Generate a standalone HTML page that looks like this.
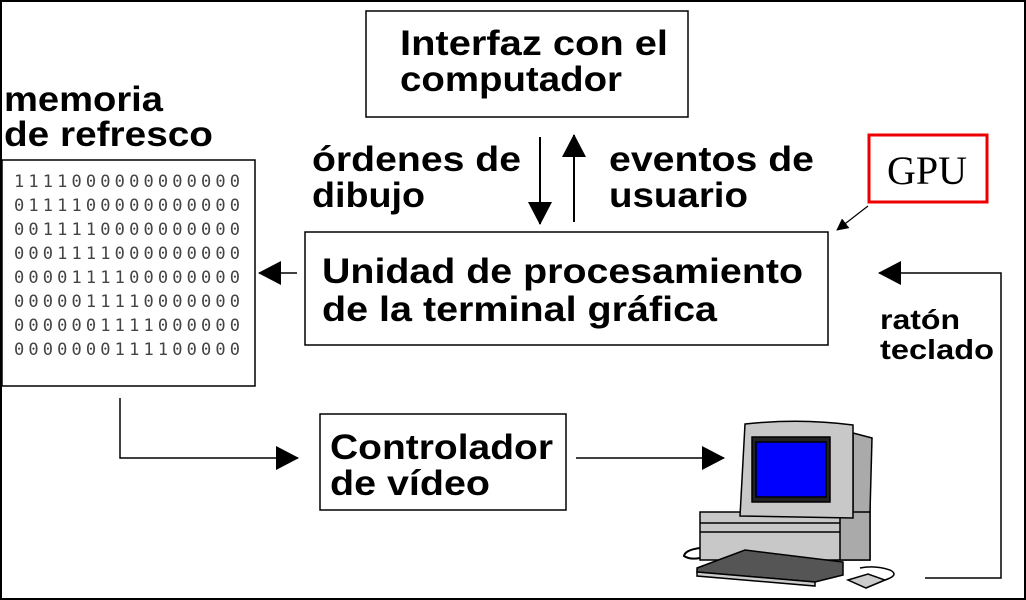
<!DOCTYPE html>
<html><head><meta charset="utf-8"><style>
html,body{margin:0;padding:0;background:#fff}
svg{display:block}
.b{font-family:"Liberation Sans",sans-serif;font-weight:bold;font-size:35px;fill:#000}
.m{font-family:"DejaVu Sans Mono","Liberation Mono",monospace;font-size:17px;fill:#444}
</style></head><body>
<svg width="1026" height="600" viewBox="0 0 1026 600" xmlns="http://www.w3.org/2000/svg">
<defs><marker id="a" markerWidth="24" markerHeight="26" refX="22" refY="13" orient="auto" markerUnits="userSpaceOnUse" viewBox="0 0 24 26"><path d="M0,1 L23,13 L0,25z" fill="#000"/></marker>
<marker id="s" markerWidth="12" markerHeight="12" refX="11" refY="6" orient="auto" markerUnits="userSpaceOnUse" viewBox="0 0 12 12"><path d="M0,0 L12,6 L0,12z" fill="#000"/></marker></defs>
<rect x="1" y="1" width="1024" height="598" fill="none" stroke="#000" stroke-width="2"/>
<g fill="none" stroke="#000" stroke-width="1.5">
<rect x="366" y="11" width="322" height="106"/>
<rect x="305" y="232" width="523" height="113"/>
<rect x="320" y="414" width="246" height="96"/>
<rect x="2" y="160" width="253" height="226"/>
</g>
<rect x="869" y="135" width="118" height="67" fill="none" stroke="#e00" stroke-width="3"/>
<text x="927" y="184" text-anchor="middle" font-family="Liberation Serif,serif" font-size="40">GPU</text>
<g class="b" lengthAdjust="spacingAndGlyphs">
<text x="400" y="55" textLength="268" lengthAdjust="spacingAndGlyphs">Interfaz con el</text>
<text x="400" y="91" textLength="222" lengthAdjust="spacingAndGlyphs">computador</text>
<text x="4" y="111" textLength="159" lengthAdjust="spacingAndGlyphs">memoria</text>
<text x="4" y="146" textLength="209" lengthAdjust="spacingAndGlyphs">de refresco</text>
<text x="312" y="171" textLength="209" lengthAdjust="spacingAndGlyphs">órdenes de</text>
<text x="312" y="207" textLength="113" lengthAdjust="spacingAndGlyphs">dibujo</text>
<text x="609" y="171" textLength="205" lengthAdjust="spacingAndGlyphs">eventos de</text>
<text x="609" y="207" textLength="139" lengthAdjust="spacingAndGlyphs">usuario</text>
<text x="322" y="283" textLength="481" lengthAdjust="spacingAndGlyphs">Unidad de procesamiento</text>
<text x="322" y="321" textLength="395" lengthAdjust="spacingAndGlyphs">de la terminal gráfica</text>
<text x="330" y="459" textLength="223" lengthAdjust="spacingAndGlyphs">Controlador</text>
<text x="330" y="495" textLength="160" lengthAdjust="spacingAndGlyphs">de vídeo</text>
<text x="880" y="329" font-size="28" textLength="80" lengthAdjust="spacingAndGlyphs">ratón</text>
<text x="880" y="359" font-size="28" textLength="114" lengthAdjust="spacingAndGlyphs">teclado</text>
</g>
<g class="m">
<text x="14" y="187" textLength="226">1111000000000000</text>
<text x="14" y="211" textLength="226">0111100000000000</text>
<text x="14" y="235" textLength="226">0011110000000000</text>
<text x="14" y="259" textLength="226">0001111000000000</text>
<text x="14" y="283" textLength="226">0000111100000000</text>
<text x="14" y="307" textLength="226">0000011110000000</text>
<text x="14" y="331" textLength="226">0000001111000000</text>
<text x="14" y="355" textLength="226">0000000111100000</text>
</g>
<g stroke="#000" stroke-width="1.5" fill="none">
<line x1="540" y1="137" x2="540" y2="224" marker-end="url(#a)" stroke-width="2"/>
<line x1="574" y1="222" x2="574" y2="135" marker-end="url(#a)" stroke-width="2"/>
<line x1="297" y1="273" x2="259" y2="273" marker-end="url(#a)"/>
<polyline points="120,398 120,458 298,458" marker-end="url(#a)"/>
<line x1="576" y1="458" x2="724" y2="458" marker-end="url(#a)"/>
<polyline points="925,578 1001,578 1001,273 879,273" marker-end="url(#a)"/>
<line x1="868" y1="206" x2="837" y2="230" stroke-width="1.2" marker-end="url(#s)"/>
</g>
<g stroke="#000" stroke-width="1.5">
<path d="M700,512 L870,512 L870,560 L700,560z" fill="#c8c8c8"/>
<line x1="700" y1="523" x2="840" y2="523"/>
<line x1="700" y1="532" x2="840" y2="532"/>
<path d="M840,512 L870,505 L870,560 L840,560z" fill="#aaa"/>
<path d="M853,433 L872,438 L870,512 L853,512z" fill="#aaa"/>
<path d="M745,424 Q800,418 853,425 L853,518 L740,516z" fill="#c8c8c8"/>
<rect x="752" y="437" width="78" height="65" fill="#222"/>
<rect x="756" y="442" width="70" height="55" fill="#0000ff"/>
<path d="M697,568 L745,550 L843,562 L843,575 L815,582 L697,572z" fill="#555"/>
<path d="M697,572 L815,582 L815,586 L697,576z" fill="#ccc"/>
<path d="M848,580 L868,574 L885,580 L866,588z" fill="#ccc"/>
<path d="M885,580 Q900,575 890,570 Q875,565 860,568" fill="none"/>
<path d="M700,548 Q685,550 684,556 Q690,560 700,558" fill="none" stroke-width="2"/>
</g>
</svg>
</body></html>
